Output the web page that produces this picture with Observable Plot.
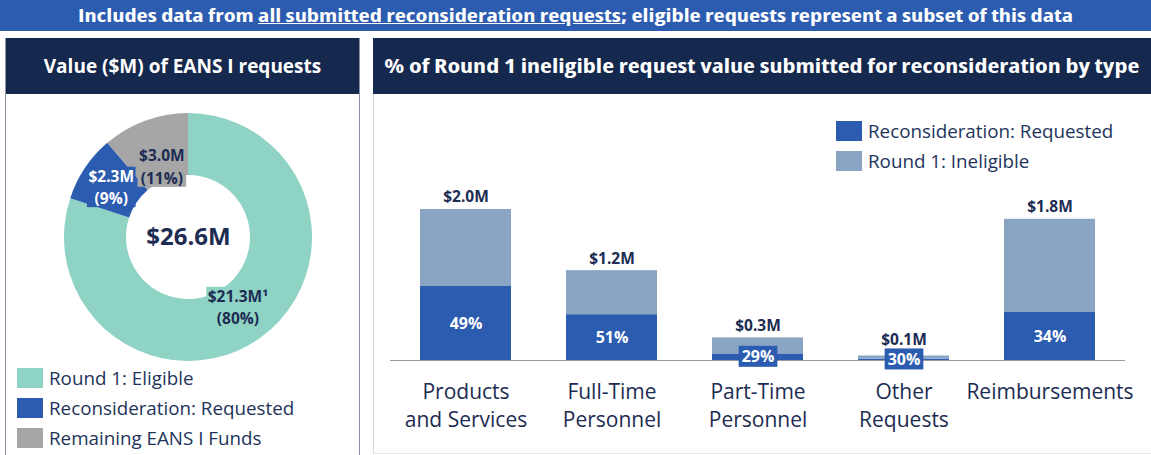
<!DOCTYPE html>
<html><head><meta charset="utf-8">
<script src="https://cdn.jsdelivr.net/npm/d3@7"></script>
<script src="https://cdn.jsdelivr.net/npm/@observablehq/plot@0.6"></script>
<style>
body{margin:0;background:#fff;font-family:"Open Sans",sans-serif;}
#root{position:relative;width:1151px;height:455px;overflow:hidden;background:#fff;}
.abs{position:absolute;}
#banner{left:0;top:0;width:1151px;height:31px;background:#2c5cb0;color:#fff;font-weight:700;font-size:17px;display:flex;align-items:center;justify-content:center;white-space:nowrap;}
.hdr{background:#15284d;color:#fff;font-weight:700;font-size:19px;display:flex;align-items:center;justify-content:center;white-space:nowrap;}
.cond{display:inline-block;font-stretch:condensed;}
.leg{display:flex;align-items:flex-start;font-size:18.8px;color:#22335a;white-space:nowrap;height:30px;}
.sw{width:26px;height:20px;margin-right:6px;flex:none;}
svg{overflow:visible;}
</style></head>
<body><div id="root">
<div id="banner" class="abs"><span class="cond" id="bannerText">Includes data from <u>all submitted reconsideration requests</u>; eligible requests represent a subset of this data</span></div>
<div class="abs" style="left:5px;top:38px;width:353px;height:430px;border:1px solid #8a93a6;"></div>
<div class="abs hdr" style="left:6px;top:38px;width:353px;height:56px;"><span id="leftTitle"></span></div>
<div class="abs" style="left:373px;top:38px;width:790px;height:415px;border-left:1px solid #d3d7de;border-bottom:1px solid #e6e8ec;"></div>
<div class="abs hdr" style="left:373px;top:38px;width:778px;height:56px;"><span class="cond" id="rightTitle"></span></div>
<div class="abs" id="donut" style="left:6px;top:94px;"></div>
<div class="abs" id="bars" style="left:373px;top:94px;"></div>
<div class="abs" id="legLeft" style="left:17px;top:368px;"></div>
<div class="abs" id="legRight" style="left:836px;top:121px;"></div>
</div>
<script>
// ---------- data ----------
const leftTitle = "Value ($M) of EANS I requests";
const rightTitle = "% of Round 1 ineligible request value submitted for reconsideration by type";

const donutCategories = ["Round 1: Eligible", "Reconsideration: Requested", "Remaining EANS I Funds"];
const donutValues = [21.3, 2.3, 3.0];
const donutValueLabels = ["$21.3M\u00b9", "$2.3M", "$3.0M"];
const donutShareLabels = ["(80%)", "(9%)", "(11%)"];
const donutTotalLabel = "$26.6M";

const barCategories = ["Products and Services", "Full-Time Personnel", "Part-Time Personnel", "Other Requests", "Reimbursements"];
const barTickLabels = ["Products\nand Services", "Full-Time\nPersonnel", "Part-Time\nPersonnel", "Other\nRequests", "Reimbursements"];
const barSeries = ["Reconsideration: Requested", "Round 1: Ineligible"];
const ineligibleTotals = [2.0, 1.19, 0.30, 0.06, 1.87];
const requestedShares = [49, 51, 29, 30, 34];
const totalLabels = ["$2.0M", "$1.2M", "$0.3M", "$0.1M", "$1.8M"];

// ---------- styles ----------
const NAVY = "#1c2c52";
const donutColors = ["#8fd3c4", "#2c5cb0", "#a6a6a6"];
const donutTextColors = [NAVY, "#ffffff", NAVY];
const barColors = ["#2c5cb0", "#8aa5c4"];

document.getElementById("leftTitle").textContent = leftTitle;
document.getElementById("rightTitle").textContent = rightTitle;

// ---------- donut ----------
const pie = d3.pie().sort(null).value(d => d)(donutValues);
const labelRadius = [0.68, 0.75, 0.62];
const donutLabels = pie.map((p, i) => {
  const a = (p.startAngle + p.endAngle) / 2;
  return {i, x: labelRadius[i] * Math.sin(a), y: labelRadius[i] * Math.cos(a),
          text: donutValueLabels[i] + "\n" + donutShareLabels[i]};
});
function donutMark(index, scales) {
  const cx = scales.x(0), cy = scales.y(0), R = scales.x(1) - cx;
  const arc = d3.arc().innerRadius(R * 0.5).outerRadius(R);
  const g = d3.create("svg:g").attr("transform", `translate(${cx},${cy})`);
  g.selectAll("path").data(pie).join("path").attr("d", arc).attr("fill", (d, i) => donutColors[i]);
  return g.node();
}
const donut = Plot.plot({
  width: 353, height: 274,
  x: {domain: [-1, 1], range: [58, 306], axis: null},
  y: {domain: [-1, 1], range: [267, 19], axis: null},
  style: {fontFamily: "Open Sans", background: "transparent"},
  marks: [
    donutMark,
    Plot.text(donutLabels, {x: "x", y: "y", text: "text", fill: d => donutTextColors[d.i], fontWeight: 700, fontSize: 15.5, lineHeight: 1.45}),
    Plot.text([{x: 0, y: 0, t: donutTotalLabel}], {x: "x", y: "y", text: "t", fill: NAVY, fontWeight: 700, fontSize: 24})
  ]
});
document.getElementById("donut").appendChild(donut);

// ---------- bars ----------
const rows = [];
barCategories.forEach((c, i) => {
  const req = ineligibleTotals[i] * requestedShares[i] / 100;
  rows.push({category: c, series: barSeries[0], value: req});
  rows.push({category: c, series: barSeries[1], value: ineligibleTotals[i] - req});
});
const pctRows = barCategories.map((c, i) => ({category: c, y: ineligibleTotals[i] * requestedShares[i] / 200, t: requestedShares[i] + "%", small: ineligibleTotals[i] * requestedShares[i] / 100 < 0.2}));
const totRows = barCategories.map((c, i) => ({category: c, y: ineligibleTotals[i], t: totalLabels[i], tiny: ineligibleTotals[i] < 0.15}));
const tickRows = barCategories.map((c, i) => ({category: c, t: barTickLabels[i]}));

const bars = Plot.plot({
  width: 778, height: 361,
  marginLeft: 17, marginRight: 26, marginTop: 39.5, marginBottom: 95,
  x: {domain: barCategories, paddingInner: 0.38, paddingOuter: 0.195, axis: null},
  y: {domain: [0, 3], axis: null},
  color: {domain: barSeries, range: barColors},
  style: {fontFamily: "Open Sans", background: "transparent"},
  marks: [
    Plot.barY(rows, {x: "category", y: "value", fill: "series"}),
    Plot.ruleY([0], {stroke: "#9b9b9b", strokeWidth: 1.2}),
    Plot.text(totRows.filter(d => !d.tiny), {x: "category", y: "y", text: "t", dy: -12, fill: NAVY, fontWeight: 700, fontSize: 15.5}),
    Plot.text(totRows.filter(d => d.tiny), {x: "category", y: "y", text: "t", dy: -16, fill: NAVY, fontWeight: 700, fontSize: 15.5}),
    Plot.text(pctRows.filter(d => !d.small), {x: "category", y: "y", text: "t", fill: "#fff", fontWeight: 700, fontSize: 16}),
    Plot.text(pctRows.filter(d => d.small), {x: "category", y: "y", text: "t", fill: "#fff", fontWeight: 700, fontSize: 16}),
    Plot.text(tickRows, {x: "category", y: () => 0, text: "t", dy: 18, lineAnchor: "top", fill: NAVY, fontSize: 21, lineHeight: 1.35})
  ]
});
document.getElementById("bars").appendChild(bars);

// background boxes behind some labels
function boxTexts(group, colorFor, padX, padY) {
  if (!group) return;
  group.querySelectorAll("text").forEach((t, k) => {
    const b = t.getBBox();
    const r = document.createElementNS("http://www.w3.org/2000/svg", "rect");
    r.setAttribute("x", b.x - padX); r.setAttribute("y", b.y - padY);
    r.setAttribute("width", b.width + 2 * padX); r.setAttribute("height", b.height + 2 * padY);
    r.setAttribute("fill", colorFor(k));
    const tr = t.getAttribute("transform"); if (tr) r.setAttribute("transform", tr);
    t.parentNode.insertBefore(r, t);
  });
}
const dGroups = donut.querySelectorAll('g[aria-label="text"]');
boxTexts(dGroups[0], k => donutColors[k], 1.5, -2);
const bGroups = bars.querySelectorAll('g[aria-label="text"]');
boxTexts(bGroups[3], k => barColors[0], 3, -0.5);

// ---------- legends ----------
function legend(el, labels, colors) {
  labels.forEach((l, i) => {
    const row = document.createElement("div");
    row.className = "leg";
    row.innerHTML = `<div class="sw" style="background:${colors[i]}"></div><span style="line-height:20px">${l}</span>`;
    el.appendChild(row);
  });
}
legend(document.getElementById("legLeft"), donutCategories, donutColors);
legend(document.getElementById("legRight"), barSeries, barColors);

// fit condensed titles to reference widths
function fit(id, w) {
  const el = document.getElementById(id);
  const cur = el.getBoundingClientRect().width;
  el.style.transform = `scaleX(${w / cur})`;
}
fit("bannerText", 995);
fit("rightTitle", 755);
</script>
</body></html>
